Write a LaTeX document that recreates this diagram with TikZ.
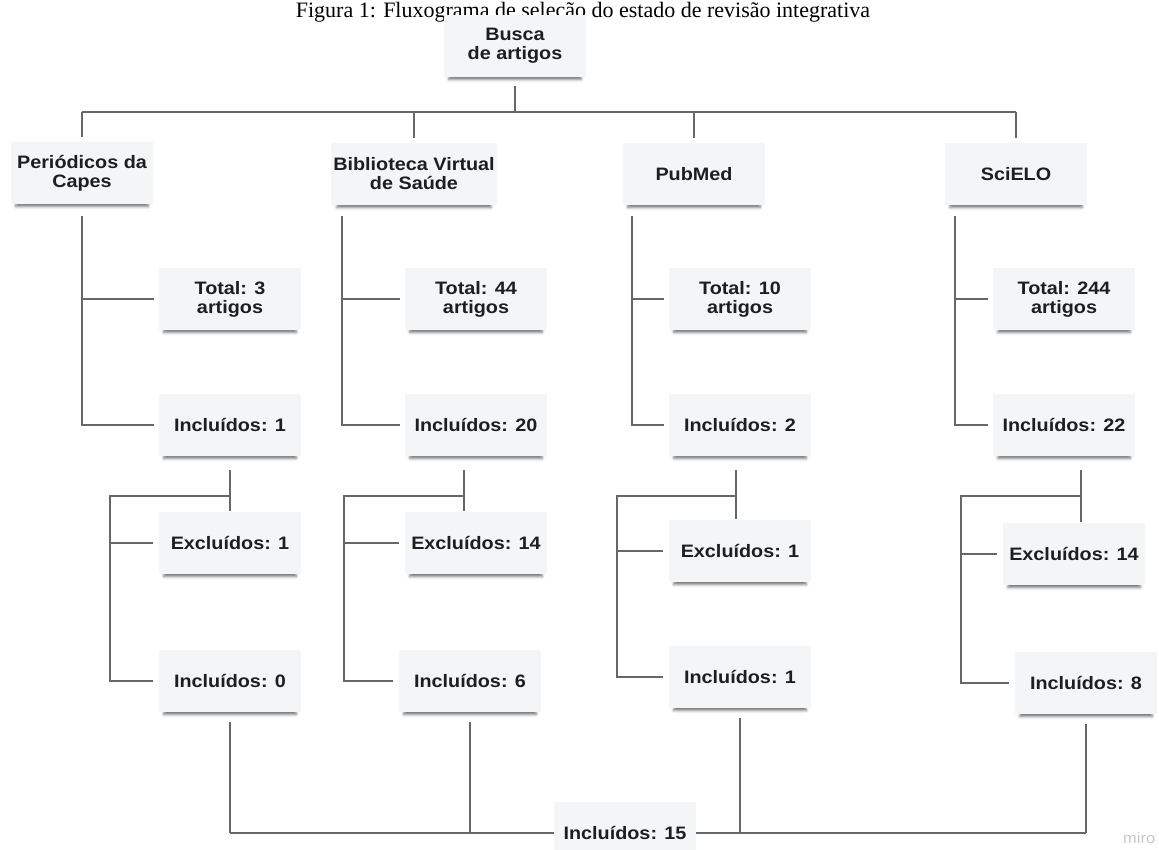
\documentclass[tikz,border=0pt]{standalone}
\usepackage{fontspec}
\setmainfont{Liberation Serif}
\newfontfamily\boxfont[FakeStretch=1.1]{Liberation Sans}
\usepackage{tikz}
\usetikzlibrary{positioning,shadows.blur}
\definecolor{cardfill}{HTML}{F3F5F6}
\definecolor{wirecol}{HTML}{676767}
\definecolor{ink}{HTML}{1E1E1E}

\begin{document}
\begin{tikzpicture}[x=1pt,y=-1pt,
  card/.style={fill=cardfill, minimum width=142pt, minimum height=62pt, inner sep=2pt,
    align=center, text=ink, font=\boxfont\bfseries\fontsize{18}{19}\selectfont,
    blur shadow={shadow xshift=0pt, shadow yshift=-5pt, shadow scale=0.93,
      shadow blur radius=3pt, shadow opacity=55}},
  wire/.style={draw=wirecol, line width=1.3pt}]
  \useasboundingbox (0,0) rectangle (1159,850);
  \node[anchor=base, font=\fontsize{22}{24}\selectfont] (title) at (583,18)
       {Figura 1: Fluxograma de seleção do estado de revisão integrativa};

  \node[card] (busca) at (515,46) {Busca\\de artigos};
  \node[card] (peri) at (82,173) {Periódicos da\\Capes};
  \node[card] (bvs) at (414,174) {Biblioteca Virtual\\de Saúde};
  \node[card] (pubmed) at (694,174) {PubMed};
  \node[card] (scielo) at (1016,174) {SciELO};

  \node[card] (tot1) at (230,299) {Total: 3\\artigos};
  \node[card] (tot2) at (476,299) {Total: 44\\artigos};
  \node[card] (tot3) at (740,299) {Total: 10\\artigos};
  \node[card] (tot4) at (1064,299) {Total: 244\\artigos};
  \node[card] (inc1) at (230,425) {Incluídos: 1};
  \node[card] (inc2) at (476,425) {Incluídos: 20};
  \node[card] (inc3) at (740,425) {Incluídos: 2};
  \node[card] (inc4) at (1064,425) {Incluídos: 22};

  \node[card] (exc1) at (230,543) {Excluídos: 1};
  \node[card] (exc2) at (476,543) {Excluídos: 14};
  \node[card] (exc3) at (740,551) {Excluídos: 1};
  \node[card] (exc4) at (1074,554) {Excluídos: 14};
  \node[card] (fin1) at (230,681) {Incluídos: 0};
  \node[card] (fin2) at (470,681) {Incluídos: 6};
  \node[card] (fin3) at (740,677) {Incluídos: 1};
  \node[card] (fin4) at (1086,683) {Incluídos: 8};

  \node[card] (total) at (625,833) {Incluídos: 15};
  \node[anchor=base west, inner sep=0, text=black!22, font=\boxfont\fontsize{15}{15}\selectfont]
       (miro) at (1123,843) {miro};

  \coordinate (hub) at (515,112);
  \draw[wire] ([yshift=-9pt]busca.south) -- (hub);
  \draw[wire] (peri.north |- hub) -- (scielo.north |- hub);
  \foreach \src in {peri,bvs,pubmed,scielo}
    \draw[wire] (\src.north |- hub) -- ([yshift=5pt]\src.north);

  \foreach \tot/\inc/\x in {tot1/inc1/82, tot2/inc2/342, tot3/inc3/632, tot4/inc4/955}{
    \coordinate (top) at (\x,216);
    \draw[wire] (top) |- ([xshift=-5pt]\inc.west);
    \draw[wire] (top |- \tot.west) -- ([xshift=-5pt]\tot.west);
  }

  \foreach \inc/\exc/\fin/\x/\t in {inc1/exc1/fin1/230/110, inc2/exc2/fin2/464/344,
                                  inc3/exc3/fin3/736/617, inc4/exc4/fin4/1081/961}{
    \coordinate (fork) at (\x,496);
    \coordinate (trunk) at (\t,496);
    \draw[wire, shorten <=14pt, shorten >=1pt] (fork |- \inc.south) -- (fork |- \exc.north);
    \draw[wire] (fork) -- (trunk) |- ([xshift=-6pt]\fin.west);
    \draw[wire] (trunk |- \exc.west) -- ([xshift=-6pt]\exc.west);
  }

  \foreach \fin in {fin1,fin2,fin3,fin4}
    \draw[wire, shorten <=10pt] (\fin.south) -- (\fin.south |- total);
  \draw[wire] (fin1.south |- total) -- (total.west);
  \draw[wire] (total.east) -- (fin4.south |- total);
\end{tikzpicture}
\end{document}
